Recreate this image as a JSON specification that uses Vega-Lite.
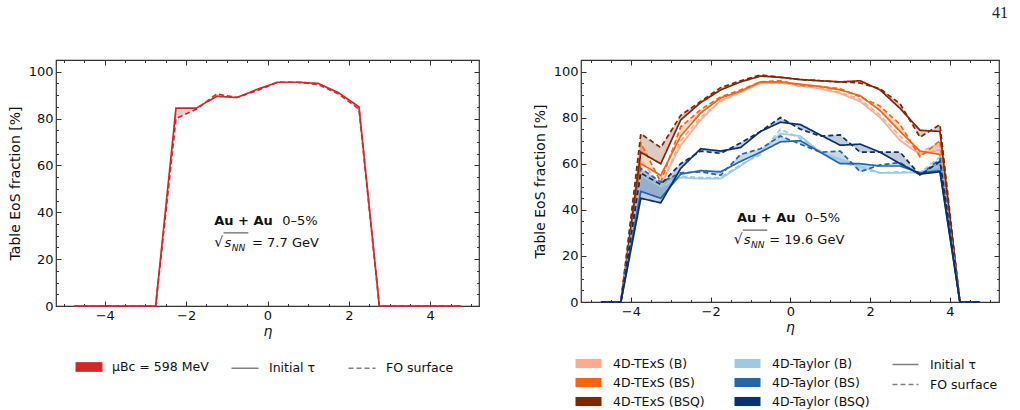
{
  "$schema": "https://vega.github.io/schema/vega-lite/v6.json",
  "background": "white",
  "padding": {"left": 7, "top": 4, "right": 5, "bottom": 0},
  "title": {"text": "41", "anchor": "end", "font": "Liberation Serif", "fontSize": 16, "fontWeight": "normal", "color": "#222", "offset": 38, "dx": 8},
  "datasets": {
    "left": [
      {"s": "μBc = 598 MeV", "eta": -4.75, "init": 0, "fo": 0},
      {"s": "μBc = 598 MeV", "eta": -4.25, "init": 0, "fo": 0},
      {"s": "μBc = 598 MeV", "eta": -3.75, "init": 0, "fo": 0},
      {"s": "μBc = 598 MeV", "eta": -3.25, "init": 0, "fo": 0},
      {"s": "μBc = 598 MeV", "eta": -2.75, "init": 0, "fo": 0},
      {"s": "μBc = 598 MeV", "eta": -2.25, "init": 84.5, "fo": 80},
      {"s": "μBc = 598 MeV", "eta": -1.75, "init": 84.5, "fo": 84},
      {"s": "μBc = 598 MeV", "eta": -1.25, "init": 89.5, "fo": 90.5},
      {"s": "μBc = 598 MeV", "eta": -0.75, "init": 89, "fo": 89},
      {"s": "μBc = 598 MeV", "eta": -0.25, "init": 92.5, "fo": 92},
      {"s": "μBc = 598 MeV", "eta": 0.25, "init": 95.5, "fo": 95.5},
      {"s": "μBc = 598 MeV", "eta": 0.75, "init": 95.5, "fo": 95.5},
      {"s": "μBc = 598 MeV", "eta": 1.25, "init": 95, "fo": 94.5},
      {"s": "μBc = 598 MeV", "eta": 1.75, "init": 91, "fo": 90.5},
      {"s": "μBc = 598 MeV", "eta": 2.25, "init": 85, "fo": 84},
      {"s": "μBc = 598 MeV", "eta": 2.75, "init": 0, "fo": 0},
      {"s": "μBc = 598 MeV", "eta": 3.25, "init": 0, "fo": 0},
      {"s": "μBc = 598 MeV", "eta": 3.75, "init": 0, "fo": 0},
      {"s": "μBc = 598 MeV", "eta": 4.25, "init": 0, "fo": 0},
      {"s": "μBc = 598 MeV", "eta": 4.75, "init": 0, "fo": 0}
    ],
    "right": [
      {"s": "4D-TExS (B)", "eta": -4.75, "init": 0, "fo": 0},
      {"s": "4D-TExS (B)", "eta": -4.25, "init": 0, "fo": 0},
      {"s": "4D-TExS (B)", "eta": -3.75, "init": 57, "fo": 62},
      {"s": "4D-TExS (B)", "eta": -3.25, "init": 51, "fo": 50},
      {"s": "4D-TExS (B)", "eta": -2.75, "init": 68, "fo": 70},
      {"s": "4D-TExS (B)", "eta": -2.25, "init": 79, "fo": 80},
      {"s": "4D-TExS (B)", "eta": -1.75, "init": 87.5, "fo": 87},
      {"s": "4D-TExS (B)", "eta": -1.25, "init": 91, "fo": 91},
      {"s": "4D-TExS (B)", "eta": -0.75, "init": 95, "fo": 95},
      {"s": "4D-TExS (B)", "eta": -0.25, "init": 95, "fo": 95.5},
      {"s": "4D-TExS (B)", "eta": 0.25, "init": 94, "fo": 93.5},
      {"s": "4D-TExS (B)", "eta": 0.75, "init": 92.5, "fo": 93},
      {"s": "4D-TExS (B)", "eta": 1.25, "init": 90.5, "fo": 91},
      {"s": "4D-TExS (B)", "eta": 1.75, "init": 87, "fo": 88},
      {"s": "4D-TExS (B)", "eta": 2.25, "init": 80, "fo": 81},
      {"s": "4D-TExS (B)", "eta": 2.75, "init": 70, "fo": 72},
      {"s": "4D-TExS (B)", "eta": 3.25, "init": 64, "fo": 65},
      {"s": "4D-TExS (B)", "eta": 3.75, "init": 66, "fo": 69},
      {"s": "4D-TExS (B)", "eta": 4.25, "init": 0, "fo": 0},
      {"s": "4D-TExS (B)", "eta": 4.75, "init": 0, "fo": 0},

      {"s": "4D-TExS (BS)", "eta": -4.75, "init": 0, "fo": 0},
      {"s": "4D-TExS (BS)", "eta": -4.25, "init": 0, "fo": 0},
      {"s": "4D-TExS (BS)", "eta": -3.75, "init": 60, "fo": 69},
      {"s": "4D-TExS (BS)", "eta": -3.25, "init": 55, "fo": 52},
      {"s": "4D-TExS (BS)", "eta": -2.75, "init": 72, "fo": 76},
      {"s": "4D-TExS (BS)", "eta": -2.25, "init": 82, "fo": 83.5},
      {"s": "4D-TExS (BS)", "eta": -1.75, "init": 88.5, "fo": 89},
      {"s": "4D-TExS (BS)", "eta": -1.25, "init": 91.5, "fo": 92},
      {"s": "4D-TExS (BS)", "eta": -0.75, "init": 95.5, "fo": 95.5},
      {"s": "4D-TExS (BS)", "eta": -0.25, "init": 95.5, "fo": 96},
      {"s": "4D-TExS (BS)", "eta": 0.25, "init": 94.5, "fo": 94},
      {"s": "4D-TExS (BS)", "eta": 0.75, "init": 93.5, "fo": 93.5},
      {"s": "4D-TExS (BS)", "eta": 1.25, "init": 92, "fo": 92.5},
      {"s": "4D-TExS (BS)", "eta": 1.75, "init": 89.5, "fo": 89},
      {"s": "4D-TExS (BS)", "eta": 2.25, "init": 83, "fo": 85},
      {"s": "4D-TExS (BS)", "eta": 2.75, "init": 74, "fo": 77},
      {"s": "4D-TExS (BS)", "eta": 3.25, "init": 65.5, "fo": 63},
      {"s": "4D-TExS (BS)", "eta": 3.75, "init": 64, "fo": 70},
      {"s": "4D-TExS (BS)", "eta": 4.25, "init": 0, "fo": 0},
      {"s": "4D-TExS (BS)", "eta": 4.75, "init": 0, "fo": 0},

      {"s": "4D-TExS (BSQ)", "eta": -4.75, "init": 0, "fo": 0},
      {"s": "4D-TExS (BSQ)", "eta": -4.25, "init": 0, "fo": 0},
      {"s": "4D-TExS (BSQ)", "eta": -3.75, "init": 65, "fo": 73},
      {"s": "4D-TExS (BSQ)", "eta": -3.25, "init": 60, "fo": 67},
      {"s": "4D-TExS (BSQ)", "eta": -2.75, "init": 79, "fo": 81},
      {"s": "4D-TExS (BSQ)", "eta": -2.25, "init": 86.5, "fo": 87},
      {"s": "4D-TExS (BSQ)", "eta": -1.75, "init": 92, "fo": 93},
      {"s": "4D-TExS (BSQ)", "eta": -1.25, "init": 95.5, "fo": 96},
      {"s": "4D-TExS (BSQ)", "eta": -0.75, "init": 98, "fo": 98.5},
      {"s": "4D-TExS (BSQ)", "eta": -0.25, "init": 97.5, "fo": 97.5},
      {"s": "4D-TExS (BSQ)", "eta": 0.25, "init": 96.5, "fo": 96.5},
      {"s": "4D-TExS (BSQ)", "eta": 0.75, "init": 96, "fo": 96},
      {"s": "4D-TExS (BSQ)", "eta": 1.25, "init": 95.5, "fo": 95.5},
      {"s": "4D-TExS (BSQ)", "eta": 1.75, "init": 96, "fo": 95},
      {"s": "4D-TExS (BSQ)", "eta": 2.25, "init": 92, "fo": 92.5},
      {"s": "4D-TExS (BSQ)", "eta": 2.75, "init": 84, "fo": 86},
      {"s": "4D-TExS (BSQ)", "eta": 3.25, "init": 74.5, "fo": 71.5},
      {"s": "4D-TExS (BSQ)", "eta": 3.75, "init": 74, "fo": 77},
      {"s": "4D-TExS (BSQ)", "eta": 4.25, "init": 0, "fo": 0},
      {"s": "4D-TExS (BSQ)", "eta": 4.75, "init": 0, "fo": 0},

      {"s": "4D-Taylor (B)", "eta": -4.75, "init": 0, "fo": 0},
      {"s": "4D-Taylor (B)", "eta": -4.25, "init": 0, "fo": 0},
      {"s": "4D-Taylor (B)", "eta": -3.75, "init": 55, "fo": 57},
      {"s": "4D-Taylor (B)", "eta": -3.25, "init": 50, "fo": 51},
      {"s": "4D-Taylor (B)", "eta": -2.75, "init": 54, "fo": 54.5},
      {"s": "4D-Taylor (B)", "eta": -2.25, "init": 53.5, "fo": 54},
      {"s": "4D-Taylor (B)", "eta": -1.75, "init": 53.5, "fo": 54},
      {"s": "4D-Taylor (B)", "eta": -1.25, "init": 59, "fo": 59.5},
      {"s": "4D-Taylor (B)", "eta": -0.75, "init": 65, "fo": 64},
      {"s": "4D-Taylor (B)", "eta": -0.25, "init": 73, "fo": 75},
      {"s": "4D-Taylor (B)", "eta": 0.25, "init": 72, "fo": 71},
      {"s": "4D-Taylor (B)", "eta": 0.75, "init": 65, "fo": 65.5},
      {"s": "4D-Taylor (B)", "eta": 1.25, "init": 62, "fo": 61},
      {"s": "4D-Taylor (B)", "eta": 1.75, "init": 59, "fo": 58},
      {"s": "4D-Taylor (B)", "eta": 2.25, "init": 56, "fo": 56},
      {"s": "4D-Taylor (B)", "eta": 2.75, "init": 56, "fo": 56.5},
      {"s": "4D-Taylor (B)", "eta": 3.25, "init": 56.5, "fo": 56},
      {"s": "4D-Taylor (B)", "eta": 3.75, "init": 59, "fo": 63},
      {"s": "4D-Taylor (B)", "eta": 4.25, "init": 0, "fo": 0},
      {"s": "4D-Taylor (B)", "eta": 4.75, "init": 0, "fo": 0},

      {"s": "4D-Taylor (BS)", "eta": -4.75, "init": 0, "fo": 0},
      {"s": "4D-Taylor (BS)", "eta": -4.25, "init": 0, "fo": 0},
      {"s": "4D-Taylor (BS)", "eta": -3.75, "init": 48, "fo": 58},
      {"s": "4D-Taylor (BS)", "eta": -3.25, "init": 45, "fo": 52},
      {"s": "4D-Taylor (BS)", "eta": -2.75, "init": 55.5, "fo": 56},
      {"s": "4D-Taylor (BS)", "eta": -2.25, "init": 57, "fo": 56.5},
      {"s": "4D-Taylor (BS)", "eta": -1.75, "init": 56.5, "fo": 55},
      {"s": "4D-Taylor (BS)", "eta": -1.25, "init": 61, "fo": 64},
      {"s": "4D-Taylor (BS)", "eta": -0.75, "init": 65, "fo": 66.5},
      {"s": "4D-Taylor (BS)", "eta": -0.25, "init": 69.5, "fo": 72},
      {"s": "4D-Taylor (BS)", "eta": 0.25, "init": 70, "fo": 68.5},
      {"s": "4D-Taylor (BS)", "eta": 0.75, "init": 65, "fo": 65},
      {"s": "4D-Taylor (BS)", "eta": 1.25, "init": 60, "fo": 65.5},
      {"s": "4D-Taylor (BS)", "eta": 1.75, "init": 60, "fo": 56.5},
      {"s": "4D-Taylor (BS)", "eta": 2.25, "init": 59, "fo": 59.5},
      {"s": "4D-Taylor (BS)", "eta": 2.75, "init": 59, "fo": 60.5},
      {"s": "4D-Taylor (BS)", "eta": 3.25, "init": 56, "fo": 55},
      {"s": "4D-Taylor (BS)", "eta": 3.75, "init": 57, "fo": 62},
      {"s": "4D-Taylor (BS)", "eta": 4.25, "init": 0, "fo": 0},
      {"s": "4D-Taylor (BS)", "eta": 4.75, "init": 0, "fo": 0},

      {"s": "4D-Taylor (BSQ)", "eta": -4.75, "init": 0, "fo": 0},
      {"s": "4D-Taylor (BSQ)", "eta": -4.25, "init": 0, "fo": 0},
      {"s": "4D-Taylor (BSQ)", "eta": -3.75, "init": 45, "fo": 56},
      {"s": "4D-Taylor (BSQ)", "eta": -3.25, "init": 43, "fo": 51},
      {"s": "4D-Taylor (BSQ)", "eta": -2.75, "init": 58, "fo": 60},
      {"s": "4D-Taylor (BSQ)", "eta": -2.25, "init": 66.5, "fo": 65.5},
      {"s": "4D-Taylor (BSQ)", "eta": -1.75, "init": 65.5, "fo": 64.5},
      {"s": "4D-Taylor (BSQ)", "eta": -1.25, "init": 67, "fo": 69},
      {"s": "4D-Taylor (BSQ)", "eta": -0.75, "init": 74, "fo": 74},
      {"s": "4D-Taylor (BSQ)", "eta": -0.25, "init": 78, "fo": 80},
      {"s": "4D-Taylor (BSQ)", "eta": 0.25, "init": 77, "fo": 75},
      {"s": "4D-Taylor (BSQ)", "eta": 0.75, "init": 72.5, "fo": 72},
      {"s": "4D-Taylor (BSQ)", "eta": 1.25, "init": 68, "fo": 72.5},
      {"s": "4D-Taylor (BSQ)", "eta": 1.75, "init": 68.5, "fo": 65},
      {"s": "4D-Taylor (BSQ)", "eta": 2.25, "init": 65, "fo": 65},
      {"s": "4D-Taylor (BSQ)", "eta": 2.75, "init": 60, "fo": 65},
      {"s": "4D-Taylor (BSQ)", "eta": 3.25, "init": 55.5, "fo": 55},
      {"s": "4D-Taylor (BSQ)", "eta": 3.75, "init": 56.5, "fo": 61},
      {"s": "4D-Taylor (BSQ)", "eta": 4.25, "init": 0, "fo": 0},
      {"s": "4D-Taylor (BSQ)", "eta": 4.75, "init": 0, "fo": 0}
    ]
  },
  "spacing": 51,
  "resolve": {
    "scale": {"x": "independent", "y": "independent", "fill": "independent", "stroke": "independent", "strokeDash": "independent"},
    "legend": {"fill": "independent", "strokeDash": "independent"}
  },
  "hconcat": [
    {
      "width": 423,
      "height": 246,
      "data": {"name": "left"},
      "resolve": {"axis": {"x": "independent", "y": "independent"}},
      "layer": [
        {
          "mark": {"type": "area", "fillOpacity": 0.25},
          "encoding": {
            "x": {"field": "eta", "type": "quantitative", "scale": {"domain": [-5.2, 5.2], "nice": false, "zero": false},
                  "axis": {"orient": "bottom", "values": [-4, -2, 0, 2, 4], "tickSize": -5, "labelPadding": 8, "title": "η", "titleFontStyle": "italic", "titlePadding": 2}},
            "y": {"field": "init", "type": "quantitative", "scale": {"domain": [0, 105], "nice": false},
                  "axis": {"orient": "left", "values": [0, 20, 40, 60, 80, 100], "tickSize": -5, "labelPadding": 8, "title": "Table EoS fraction [%]", "titlePadding": 6}},
            "y2": {"field": "fo"},
            "fill": {"field": "s", "type": "nominal", "scale": {"domain": ["μBc = 598 MeV"], "range": ["#d62728"]},
                     "legend": {"orient": "bottom", "direction": "horizontal", "title": null, "offset": 22, "symbolType": "M-2,-0.72H2V0.72H-2Z", "symbolSize": 182, "labelOffset": 16,
                                "encode": {"symbols": {"update": {"fillOpacity": {"value": 1}, "strokeWidth": {"value": 0}}}}}}
          }
        },
        {
          "transform": [{"fold": ["init", "fo"], "as": ["kind", "v"]}],
          "mark": {"type": "line", "strokeWidth": 1.7},
          "encoding": {
            "x": {"field": "eta", "type": "quantitative",
                  "axis": {"orient": "bottom", "values": [-5, -4.5, -3.5, -3, -2.5, -1.5, -1, -0.5, 0.5, 1, 1.5, 2.5, 3, 3.5, 4.5, 5], "tickSize": -2.5, "labels": false, "title": null}},
            "y": {"field": "v", "type": "quantitative",
                  "axis": {"orient": "left", "values": [5, 10, 15, 25, 30, 35, 45, 50, 55, 65, 70, 75, 85, 90, 95, 105], "tickSize": -2.5, "labels": false, "title": null}},
            "stroke": {"field": "s", "type": "nominal", "scale": {"domain": ["μBc = 598 MeV"], "range": ["#d62728"]}, "legend": null},
            "strokeDash": {"field": "kind", "type": "nominal", "scale": {"domain": ["init", "fo"], "range": [[1, 0], [5, 3]]},
                           "legend": {"orient": "bottom", "direction": "horizontal", "columns": 2, "title": null, "offset": 22, "symbolType": "M-2,0H2", "symbolSize": 182, "symbolStrokeColor": "#808080", "symbolStrokeWidth": 1.6, "labelOffset": 16, "columnPadding": 29,
                                      "labelExpr": "datum.label == 'init' ? 'Initial τ' : 'FO surface'"}}
          }
        },
        {
          "mark": {"type": "point", "opacity": 0},
          "encoding": {
            "x": {"field": "eta", "type": "quantitative", "axis": {"orient": "top", "values": [-4, -2, 0, 2, 4], "tickSize": -5, "labels": false, "title": null}},
            "y": {"field": "init", "type": "quantitative", "axis": {"orient": "right", "values": [0, 20, 40, 60, 80, 100], "tickSize": -5, "labels": false, "title": null}}
          }
        },
        {
          "mark": {"type": "point", "opacity": 0},
          "encoding": {
            "x": {"field": "eta", "type": "quantitative", "axis": {"orient": "top", "values": [-5, -4.5, -3.5, -3, -2.5, -1.5, -1, -0.5, 0.5, 1, 1.5, 2.5, 3, 3.5, 4.5, 5], "tickSize": -2.5, "labels": false, "title": null}},
            "y": {"field": "init", "type": "quantitative", "axis": {"orient": "right", "values": [5, 10, 15, 25, 30, 35, 45, 50, 55, 65, 70, 75, 85, 90, 95, 105], "tickSize": -2.5, "labels": false, "title": null}}
          }
        },
        {
          "data": {"values": [{}]},
          "mark": {"type": "text", "text": "Au + Au", "fontWeight": "bold", "fontSize": 13, "align": "left", "baseline": "middle"},
          "encoding": {"x": {"datum": -1.31, "type": "quantitative", "axis": null}, "y": {"datum": 36.2, "type": "quantitative", "axis": null}}
        },
        {
          "data": {"values": [{}]},
          "mark": {"type": "text", "text": "0–5%", "fontSize": 13, "align": "left", "baseline": "middle"},
          "encoding": {"x": {"datum": 0.36, "type": "quantitative", "axis": null}, "y": {"datum": 36.2, "type": "quantitative", "axis": null}}
        },
        {
          "data": {"values": [{}]},
          "mark": {"type": "text", "text": "√", "fontSize": 14, "align": "left", "baseline": "middle"},
          "encoding": {"x": {"datum": -1.31, "type": "quantitative", "axis": null}, "y": {"datum": 26.8, "type": "quantitative", "axis": null}}
        },
        {
          "data": {"values": [{}]},
          "mark": {"type": "text", "text": "s", "fontSize": 13, "fontStyle": "italic", "align": "left", "baseline": "middle"},
          "encoding": {"x": {"datum": -1.06, "type": "quantitative", "axis": null}, "y": {"datum": 26.8, "type": "quantitative", "axis": null}}
        },
        {
          "data": {"values": [{}]},
          "mark": {"type": "text", "text": "NN", "fontSize": 9, "fontStyle": "italic", "align": "left", "baseline": "middle"},
          "encoding": {"x": {"datum": -0.88, "type": "quantitative", "axis": null}, "y": {"datum": 24.6, "type": "quantitative", "axis": null}}
        },
        {
          "data": {"values": [{}]},
          "mark": {"type": "rule", "strokeWidth": 0.8, "color": "#111"},
          "encoding": {"x": {"datum": -1.08, "type": "quantitative", "axis": null}, "x2": {"datum": -0.47}, "y": {"datum": 31.2, "type": "quantitative", "axis": null}}
        },
        {
          "data": {"values": [{}]},
          "mark": {"type": "text", "text": "= 7.7 GeV", "fontSize": 13, "align": "left", "baseline": "middle"},
          "encoding": {"x": {"datum": -0.38, "type": "quantitative", "axis": null}, "y": {"datum": 26.8, "type": "quantitative", "axis": null}}
        }
      ]
    },
    {
      "width": 418,
      "height": 242,
      "data": {"name": "right"},
      "resolve": {"axis": {"x": "independent", "y": "independent"}},
      "layer": [
        {
          "mark": {"type": "area", "fillOpacity": 0.25},
          "encoding": {
            "x": {"field": "eta", "type": "quantitative", "scale": {"domain": [-5.25, 5.23], "nice": false, "zero": false},
                  "axis": {"orient": "bottom", "values": [-4, -2, 0, 2, 4], "tickSize": -5, "labelPadding": 8, "title": "η", "titleFontStyle": "italic", "titlePadding": 2}},
            "y": {"field": "init", "type": "quantitative", "scale": {"domain": [0, 105], "nice": false},
                  "axis": {"orient": "left", "values": [0, 20, 40, 60, 80, 100], "tickSize": -5, "labelPadding": 8, "title": "Table EoS fraction [%]", "titlePadding": 6}},
            "y2": {"field": "fo"},
            "fill": {"field": "s", "type": "nominal",
                     "scale": {"domain": ["4D-TExS (B)", "4D-TExS (BS)", "4D-TExS (BSQ)", "4D-Taylor (B)", "4D-Taylor (BS)", "4D-Taylor (BSQ)"],
                               "range": ["#fcab8f", "#f9630f", "#7f2704", "#9ecae1", "#2266ac", "#08306b"]},
                     "legend": {"orient": "bottom", "direction": "vertical", "columns": 2, "title": null, "offset": 23, "symbolType": "M-2,-0.7H2V0.7H-2Z", "symbolSize": 169, "labelOffset": 18, "columnPadding": 29, "rowPadding": 6,
                                "encode": {"symbols": {"update": {"fillOpacity": {"value": 1}, "strokeWidth": {"value": 0}}}}}}
          }
        },
        {
          "transform": [{"fold": ["init", "fo"], "as": ["kind", "v"]}],
          "mark": {"type": "line", "strokeWidth": 1.7},
          "encoding": {
            "x": {"field": "eta", "type": "quantitative",
                  "axis": {"orient": "bottom", "values": [-5, -4.5, -3.5, -3, -2.5, -1.5, -1, -0.5, 0.5, 1, 1.5, 2.5, 3, 3.5, 4.5, 5], "tickSize": -2.5, "labels": false, "title": null}},
            "y": {"field": "v", "type": "quantitative",
                  "axis": {"orient": "left", "values": [5, 10, 15, 25, 30, 35, 45, 50, 55, 65, 70, 75, 85, 90, 95, 105], "tickSize": -2.5, "labels": false, "title": null}},
            "stroke": {"field": "s", "type": "nominal",
                       "scale": {"domain": ["4D-TExS (B)", "4D-TExS (BS)", "4D-TExS (BSQ)", "4D-Taylor (B)", "4D-Taylor (BS)", "4D-Taylor (BSQ)"],
                                 "range": ["#fcab8f", "#f9630f", "#7f2704", "#9ecae1", "#2266ac", "#08306b"]}, "legend": null},
            "strokeDash": {"field": "kind", "type": "nominal", "scale": {"domain": ["init", "fo"], "range": [[1, 0], [5, 3]]},
                           "legend": {"orient": "bottom", "direction": "vertical", "title": null, "offset": 23, "symbolType": "M-2,0H2", "symbolSize": 169, "symbolStrokeColor": "#808080", "symbolStrokeWidth": 1.6, "labelOffset": 17, "rowPadding": 6,
                                      "labelExpr": "datum.label == 'init' ? 'Initial τ' : 'FO surface'"}}
          }
        },
        {
          "mark": {"type": "point", "opacity": 0},
          "encoding": {
            "x": {"field": "eta", "type": "quantitative", "axis": {"orient": "top", "values": [-4, -2, 0, 2, 4], "tickSize": -5, "labels": false, "title": null}},
            "y": {"field": "init", "type": "quantitative", "axis": {"orient": "right", "values": [0, 20, 40, 60, 80, 100], "tickSize": -5, "labels": false, "title": null}}
          }
        },
        {
          "mark": {"type": "point", "opacity": 0},
          "encoding": {
            "x": {"field": "eta", "type": "quantitative", "axis": {"orient": "top", "values": [-5, -4.5, -3.5, -3, -2.5, -1.5, -1, -0.5, 0.5, 1, 1.5, 2.5, 3, 3.5, 4.5, 5], "tickSize": -2.5, "labels": false, "title": null}},
            "y": {"field": "init", "type": "quantitative", "axis": {"orient": "right", "values": [5, 10, 15, 25, 30, 35, 45, 50, 55, 65, 70, 75, 85, 90, 95, 105], "tickSize": -2.5, "labels": false, "title": null}}
          }
        },
        {
          "data": {"values": [{}]},
          "mark": {"type": "text", "text": "Au + Au", "fontWeight": "bold", "fontSize": 13, "align": "left", "baseline": "middle"},
          "encoding": {"x": {"datum": -1.34, "type": "quantitative", "axis": null}, "y": {"datum": 36.4, "type": "quantitative", "axis": null}}
        },
        {
          "data": {"values": [{}]},
          "mark": {"type": "text", "text": "0–5%", "fontSize": 13, "align": "left", "baseline": "middle"},
          "encoding": {"x": {"datum": 0.36, "type": "quantitative", "axis": null}, "y": {"datum": 36.4, "type": "quantitative", "axis": null}}
        },
        {
          "data": {"values": [{}]},
          "mark": {"type": "text", "text": "√", "fontSize": 14, "align": "left", "baseline": "middle"},
          "encoding": {"x": {"datum": -1.42, "type": "quantitative", "axis": null}, "y": {"datum": 26.8, "type": "quantitative", "axis": null}}
        },
        {
          "data": {"values": [{}]},
          "mark": {"type": "text", "text": "s", "fontSize": 13, "fontStyle": "italic", "align": "left", "baseline": "middle"},
          "encoding": {"x": {"datum": -1.17, "type": "quantitative", "axis": null}, "y": {"datum": 26.8, "type": "quantitative", "axis": null}}
        },
        {
          "data": {"values": [{}]},
          "mark": {"type": "text", "text": "NN", "fontSize": 9, "fontStyle": "italic", "align": "left", "baseline": "middle"},
          "encoding": {"x": {"datum": -0.99, "type": "quantitative", "axis": null}, "y": {"datum": 24.6, "type": "quantitative", "axis": null}}
        },
        {
          "data": {"values": [{}]},
          "mark": {"type": "rule", "strokeWidth": 0.8, "color": "#111"},
          "encoding": {"x": {"datum": -1.19, "type": "quantitative", "axis": null}, "x2": {"datum": -0.58}, "y": {"datum": 31.2, "type": "quantitative", "axis": null}}
        },
        {
          "data": {"values": [{}]},
          "mark": {"type": "text", "text": "= 19.6 GeV", "fontSize": 13, "align": "left", "baseline": "middle"},
          "encoding": {"x": {"datum": -0.53, "type": "quantitative", "axis": null}, "y": {"datum": 26.8, "type": "quantitative", "axis": null}}
        }
      ]
    }
  ],
  "config": {
    "font": "DejaVu Sans",
    "view": {"stroke": "#333", "strokeWidth": 1.2},
    "axis": {"grid": false, "domain": false, "tickColor": "#333", "tickWidth": 1, "labelColor": "#111", "titleColor": "#111", "labelFontSize": 13, "titleFontSize": 14, "titleFontWeight": "normal"},
    "legend": {"labelFontSize": 12.5, "labelColor": "#111", "layout": {"bottom": {"anchor": "middle", "direction": "horizontal", "margin": 28}}},
    "text": {"color": "#111"}
  }
}
